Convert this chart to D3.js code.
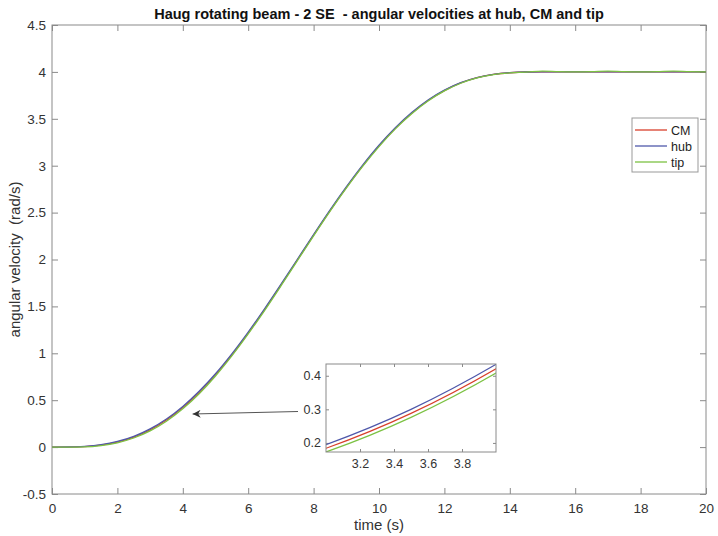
<!DOCTYPE html>
<html>
<head>
<meta charset="utf-8">
<script src="https://cdn.jsdelivr.net/npm/d3@7"></script>
<style>
  body { margin: 0; background: #fff; }
  text { font-family: "Liberation Sans", Arial, sans-serif; }
</style>
</head>
<body>
<div id="chartArea"></div>
<script>
// time samples (s)
var time = [0, 0.5, 1, 1.5, 2, 2.5, 3, 3.5, 4, 4.5, 5, 5.5, 6, 6.5, 7, 7.5,
    8, 8.5, 9, 9.5, 10, 10.5, 11, 11.5, 12, 12.5, 13, 13.5, 14, 14.5, 15,
    15.5, 16, 16.5, 17, 17.5, 18, 18.5, 19, 19.5, 20];

var hub = [0, 0.001, 0.008, 0.026, 0.060, 0.115, 0.195, 0.300, 0.434, 0.595, 0.782, 0.994,
    1.226, 1.474, 1.734, 2.000, 2.266, 2.526, 2.774, 3.006, 3.218, 3.405, 3.566, 3.700,
    3.805, 3.885, 3.940, 3.974, 3.992, 3.999, 4.000,
    4, 4, 4, 4, 4, 4, 4, 4, 4, 4];

var cm = [0, 0.000, 0.005, 0.021, 0.053, 0.106, 0.184, 0.288, 0.421, 0.582, 0.770, 0.983,
    1.216, 1.465, 1.726, 1.993, 2.259, 2.519, 2.767, 2.999, 3.211, 3.399, 3.560, 3.695,
    3.801, 3.882, 3.938, 3.973, 3.991, 3.999, 4.000,
    4, 4, 4, 4, 4, 4, 4, 4, 4, 4];

var tip = [0, 0.000, 0.002, 0.016, 0.046, 0.097, 0.173, 0.276, 0.408, 0.569, 0.758, 0.972,
    1.206, 1.456, 1.718, 1.986, 2.252, 2.512, 2.760, 2.992, 3.204, 3.393, 3.554, 3.690,
    3.797, 3.879, 3.936, 3.972, 3.990, 3.998, 4.008,
    4.002, 4.000, 4.002, 4.008, 4.002, 4.000, 4.002, 4.008, 4.002, 4.000];

var seriesNames = ['CM', 'hub', 'tip'];
var seriesColors = ['#d8402c', '#4f58aa', '#7cc243'];
var seriesValues = [cm, hub, tip];

var xTicks = [0, 2, 4, 6, 8, 10, 12, 14, 16, 18, 20];
var yTicks = [-0.5, 0, 0.5, 1, 1.5, 2, 2.5, 3, 3.5, 4, 4.5];
var insetXTicks = [3.2, 3.4, 3.6, 3.8];
var insetYTicks = [0.2, 0.3, 0.4];

var W = 718, H = 536;
var margin = {top: 25, right: 12, bottom: 42, left: 52};
var w = W - margin.left - margin.right,
    h = H - margin.top - margin.bottom;

var axisColor = '#8a8a8a', textColor = '#333';

var svg = d3.select('#chartArea').append('svg')
    .attr('width', W)
    .attr('height', H);

var g = svg.append('g')
    .attr('transform', 'translate(' + margin.left + ',' + margin.top + ')');

var xScale = d3.scaleLinear().domain([0, 20]).range([0, w]);
var yScale = d3.scaleLinear().domain([-0.5, 4.5]).range([h, 0]);

function series(i) {
    return time.map(function (t, j) { return {t: t, v: seriesValues[i][j]}; });
}

// axes box with inward ticks on all sides
function styleAxis(sel, size) {
    sel.selectAll('.domain').remove();
    sel.selectAll('.tick line').attr('stroke', axisColor);
    sel.selectAll('.tick text').attr('fill', textColor).style('font-size', size + 'px');
}

g.append('g').attr('transform', 'translate(0,' + h + ')')
    .call(d3.axisBottom(xScale).tickValues(xTicks).tickSize(-6).tickPadding(9).tickFormat(d3.format('d')))
    .call(styleAxis, 13.5);
g.append('g')
    .call(d3.axisTop(xScale).tickValues(xTicks).tickSize(-6).tickFormat(''))
    .call(styleAxis, 13.5);
g.append('g')
    .call(d3.axisLeft(yScale).tickValues(yTicks).tickSize(-6).tickPadding(6).tickFormat(function (d) { return String(d); }))
    .call(styleAxis, 13.5);
g.append('g').attr('transform', 'translate(' + w + ',0)')
    .call(d3.axisRight(yScale).tickValues(yTicks).tickSize(-6).tickFormat(''))
    .call(styleAxis, 13.5);

g.append('rect')
    .attr('width', w).attr('height', h)
    .attr('fill', 'none').attr('stroke', axisColor).attr('stroke-width', 1);

var line = d3.line()
    .x(function (d) { return xScale(d.t); })
    .y(function (d) { return yScale(d.v); })
    .curve(d3.curveMonotoneX);

g.selectAll('path.series')
    .data([0, 1, 2])
    .enter()
    .append('path')
    .attr('class', 'series')
    .attr('d', function (i) { return line(series(i)); })
    .attr('fill', 'none')
    .attr('stroke', function (i) { return seriesColors[i]; })
    .attr('stroke-width', 1.3);

// titles
svg.append('text')
    .attr('x', margin.left + w / 2).attr('y', 19)
    .attr('text-anchor', 'middle')
    .style('font-size', '14.5px').style('font-weight', 'bold').style('white-space', 'pre')
    .attr('fill', '#111')
    .text('Haug rotating beam - 2 SE  - angular velocities at hub, CM and tip');

svg.append('text')
    .attr('x', margin.left + w / 2).attr('y', 530)
    .attr('text-anchor', 'middle')
    .style('font-size', '15px').attr('fill', textColor)
    .text('time (s)');

svg.append('text')
    .attr('transform', 'translate(20,' + (margin.top + yScale(2)) + ') rotate(-90)')
    .attr('text-anchor', 'middle')
    .style('font-size', '15px').style('white-space', 'pre').attr('fill', textColor)
    .text('angular velocity  (rad/s)');

// legend
var legend = svg.append('g').attr('transform', 'translate(632,118)');
legend.append('rect')
    .attr('width', 66).attr('height', 54)
    .attr('fill', '#fff').attr('stroke', '#999');
seriesNames.forEach(function (name, i) {
    var yy = 12 + i * 16;
    legend.append('line')
        .attr('x1', 3).attr('x2', 35).attr('y1', yy).attr('y2', yy)
        .attr('stroke', seriesColors[i]).attr('stroke-width', 1.3);
    legend.append('text')
        .attr('x', 39).attr('y', yy + 4.5)
        .style('font-size', '12.5px').attr('fill', '#222')
        .text(name);
});

// zoom inset
var inset = {x: 326, y: 364, w: 170, h: 88};
var ig = svg.append('g').attr('transform', 'translate(' + inset.x + ',' + inset.y + ')');

var ixScale = d3.scaleLinear().domain([3, 4]).range([0, inset.w]);
var iyScale = d3.scaleLinear().domain([0.173, 0.435]).range([inset.h, 0]);

ig.append('rect').attr('width', inset.w).attr('height', inset.h).attr('fill', '#fff');

ig.append('g').attr('transform', 'translate(0,' + inset.h + ')')
    .call(d3.axisBottom(ixScale).tickValues(insetXTicks).tickSize(-3).tickPadding(7).tickFormat(d3.format('.1f')))
    .call(styleAxis, 12.5);
ig.append('g')
    .call(d3.axisTop(ixScale).tickValues(insetXTicks).tickSize(-3).tickFormat(''))
    .call(styleAxis, 12.5);
ig.append('g')
    .call(d3.axisLeft(iyScale).tickValues(insetYTicks).tickSize(-3).tickPadding(5).tickFormat(d3.format('.1f')))
    .call(styleAxis, 12.5);
ig.append('g').attr('transform', 'translate(' + inset.w + ',0)')
    .call(d3.axisRight(iyScale).tickValues(insetYTicks).tickSize(-3).tickFormat(''))
    .call(styleAxis, 12.5);

var iline = d3.line()
    .x(function (d) { return ixScale(d.t); })
    .y(function (d) { return iyScale(d.v); })
    .curve(d3.curveMonotoneX);

ig.append('clipPath').attr('id', 'insetClip')
    .append('rect').attr('width', inset.w).attr('height', inset.h);

ig.selectAll('path.iseries')
    .data([0, 1, 2])
    .enter()
    .append('path')
    .attr('class', 'iseries')
    .attr('clip-path', 'url(#insetClip)')
    .attr('d', function (i) {
        return iline(series(i).filter(function (d) { return d.t >= 2.5 && d.t <= 4.5; }));
    })
    .attr('fill', 'none')
    .attr('stroke', function (i) { return seriesColors[i]; })
    .attr('stroke-width', 1.2);

ig.append('rect').attr('width', inset.w).attr('height', inset.h)
    .attr('fill', 'none').attr('stroke', axisColor);

// arrow pointing from the inset to the zoomed region
svg.append('defs').append('marker')
    .attr('id', 'arrowHead')
    .attr('viewBox', '0 0 10 10')
    .attr('refX', 10).attr('refY', 5)
    .attr('markerWidth', 10).attr('markerHeight', 8)
    .attr('markerUnits', 'userSpaceOnUse')
    .attr('orient', 'auto')
    .append('path')
    .attr('d', 'M0,0 L10,5 L0,10 L3,5 Z')
    .attr('fill', '#333');

svg.append('line')
    .attr('x1', 298).attr('y1', 411.5)
    .attr('x2', margin.left + xScale(4.3)).attr('y2', 414)
    .attr('stroke', '#555').attr('stroke-width', 1)
    .attr('marker-end', 'url(#arrowHead)');
</script>
</body>
</html>
